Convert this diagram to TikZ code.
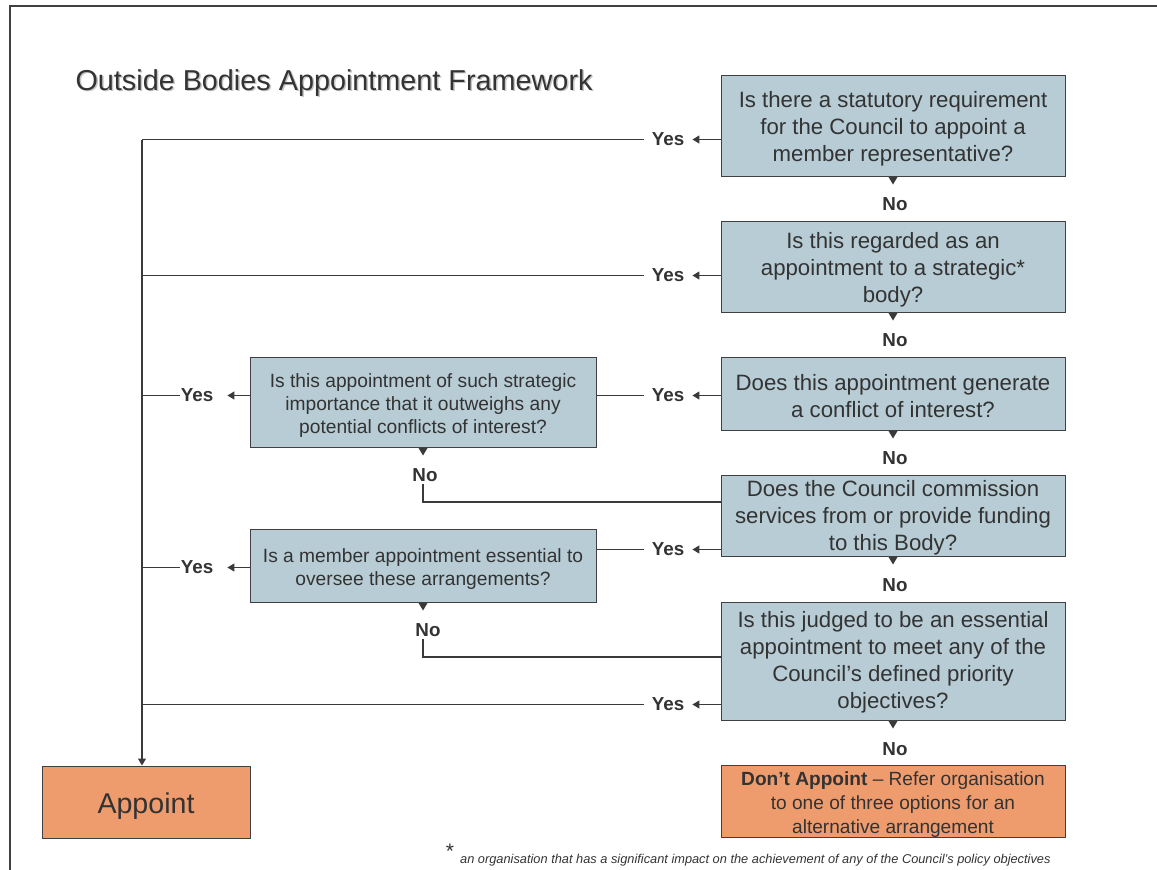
\documentclass[tikz,border=0pt]{standalone}
\usepackage{fontspec}
\setmainfont{Liberation Sans}
\usetikzlibrary{arrows.meta}
\definecolor{qfill}{HTML}{B7CCD5}
\definecolor{ofill}{HTML}{EE9C6E}
\definecolor{txt}{HTML}{333333}
\definecolor{edge}{HTML}{404040}
\definecolor{ln}{HTML}{3A3A3A}
\newcommand\qstrut[1]{\rule{0pt}{#1}}
\tikzset{
  qbox/.style={draw=edge, fill=qfill, line width=1pt, text=txt, align=center, inner sep=0pt,
    font=\fontsize{22.2}{27}\selectfont},
  rq/.style={qbox, minimum width=344pt},
  lq/.style={qbox, minimum width=346pt, font=\fontsize{19.2}{23}\selectfont},
  obox/.style={draw=edge, fill=ofill, line width=1pt, text=txt, align=center, inner sep=0pt},
  lab/.style={text=txt, font=\bfseries\fontsize{18.8}{20}\selectfont, inner xsep=8pt, inner ysep=2pt},
  labl/.style={lab, inner xsep=1pt},
  conn/.style={draw=ln, line width=1.1pt},
  arr/.style={conn, -{Triangle[length=7pt,width=8pt]}},
}
\begin{document}
\begin{tikzpicture}[x=1pt,y=-1pt]
\useasboundingbox (0,0) rectangle (1157,870);
\draw[draw=edge, line width=2pt] (9.5,870) -- (9.5,5.5) -- (1157,5.5);

% title
\node[anchor=west, text=gray!45, font=\fontsize{28.8}{30}\selectfont] at (73.5,84.5) {Outside Bodies Appointment Framework};
\node[anchor=west, text=txt, font=\fontsize{28.8}{30}\selectfont] (title) at (72,83) {Outside Bodies Appointment Framework};

% right column questions
\node[rq, minimum height=101pt] (q1) at (893,125.5) {\qstrut{22pt}Is there a statutory requirement\\for the Council to appoint a\\member representative?};
\node[rq, minimum height=91pt] (q2) at (893,266.5) {\qstrut{22pt}Is this regarded as an\\appointment to a strategic*\\body?};
\node[rq, minimum height=73pt] (q3) at (893,393.5) {\qstrut{22pt}Does this appointment generate\\a conflict of interest?};
\node[rq, minimum height=81pt] (q4) at (893,515.5) {\qstrut{21pt}Does the Council commission\\services from or provide funding\\to this Body?};
\node[rq, minimum height=118pt] (q5) at (893,661) {\qstrut{18pt}Is this judged to be an essential\\appointment to meet any of the\\Council’s defined priority\\objectives?};
\node[obox, minimum width=344pt, minimum height=71pt, font=\fontsize{19.1}{24}\selectfont] (dont) at (893,801.5) {\qstrut{20pt}\textbf{Don’t Appoint} – Refer organisation\\to one of three options for an\\alternative arrangement};

% left column questions
\node[lq, minimum height=90pt] (l1) at (423,402) {\qstrut{21pt}Is this appointment of such strategic\\importance that it outweighs any\\potential conflicts of interest?};
\node[lq, minimum height=73pt] (l2) at (423,565.5) {\qstrut{20pt}Is a member appointment essential to\\oversee these arrangements?};

% appoint
\node[obox, minimum width=208pt, minimum height=72pt, font=\fontsize{28.6}{30}\selectfont] (app) at (146,802) {\qstrut{29pt}Appoint};

% labels
\node[lab] (y1) at (668,139.5) {Yes};
\node[lab] (y2) at (668,275.5) {Yes};
\node[lab] (y3) at (668,395.5) {Yes};
\node[lab] (y4) at (668,549.5) {Yes};
\node[lab] (y5) at (668,704.5) {Yes};
\node[labl] (yl1) at (197,395.5) {Yes};
\node[labl] (yl2) at (197,567.5) {Yes};
\node[lab] (n1) at (895,204.5) {No};
\node[lab] (n2) at (895,340.5) {No};
\node[lab] (n3) at (895,458.5) {No};
\node[lab] (n4) at (895,585.5) {No};
\node[lab] (n5) at (895,749.5) {No};
\node[lab] (nl1) at (425,475.5) {No};
\node[lab] (nl2) at (428,630.5) {No};

% trunk
\coordinate (trunk) at (142,139.5);
\draw[arr] (trunk) -- (trunk |- app.north);

% right column yes arrows
\draw[arr] (q1.west |- y1) -- (y1.east);
\draw[arr] (q2.west |- y2) -- (y2.east);
\draw[arr] (q3.west |- y3) -- (y3.east);
\draw[arr] (q4.west |- y4) -- (y4.east);
\draw[arr] (q5.west |- y5) -- (y5.east);
\draw[conn] (y1.west) -- (trunk);
\draw[conn] (y2.west) -- (trunk |- y2);
\draw[conn] (y5.west) -- (trunk |- y5);
\draw[conn] (y3.west) -- (l1.east |- y3);
\draw[conn] (y4.west) -- (l2.east |- y4);

% left column yes arrows
\draw[arr, shorten >=13pt] (l1.west |- yl1) -- (yl1.east);
\draw[arr, shorten >=13pt] (l2.west |- yl2) -- (yl2.east);
\draw[conn] (yl1.west) -- (trunk |- yl1);
\draw[conn] (yl2.west) -- (trunk |- yl2);

% down tips
\foreach \b in {q1,q2,q3,q4,q5,l1,l2}{
  \fill[ln] (\b.south) ++(-4.5,0.5) -- ++(9,0) -- ++(-4.5,7.5) -- cycle;
}

% left no connectors
\draw[conn] (l1.south |- nl1.south) |- ([yshift=13.5pt]q4.west);
\draw[conn] (l2.south |- nl2.south) |- ([yshift=4pt]q5.west);

% footnote
\node[text=txt, font=\fontsize{21}{21}\selectfont] (star) at (450,851) {*};
\node[anchor=west, text=txt, inner sep=0pt, font=\itshape\fontsize{12.8}{13}\selectfont] (fn) at (460,860) {an organisation that has a significant impact on the achievement of any of the Council’s policy objectives};
\end{tikzpicture}
\end{document}
